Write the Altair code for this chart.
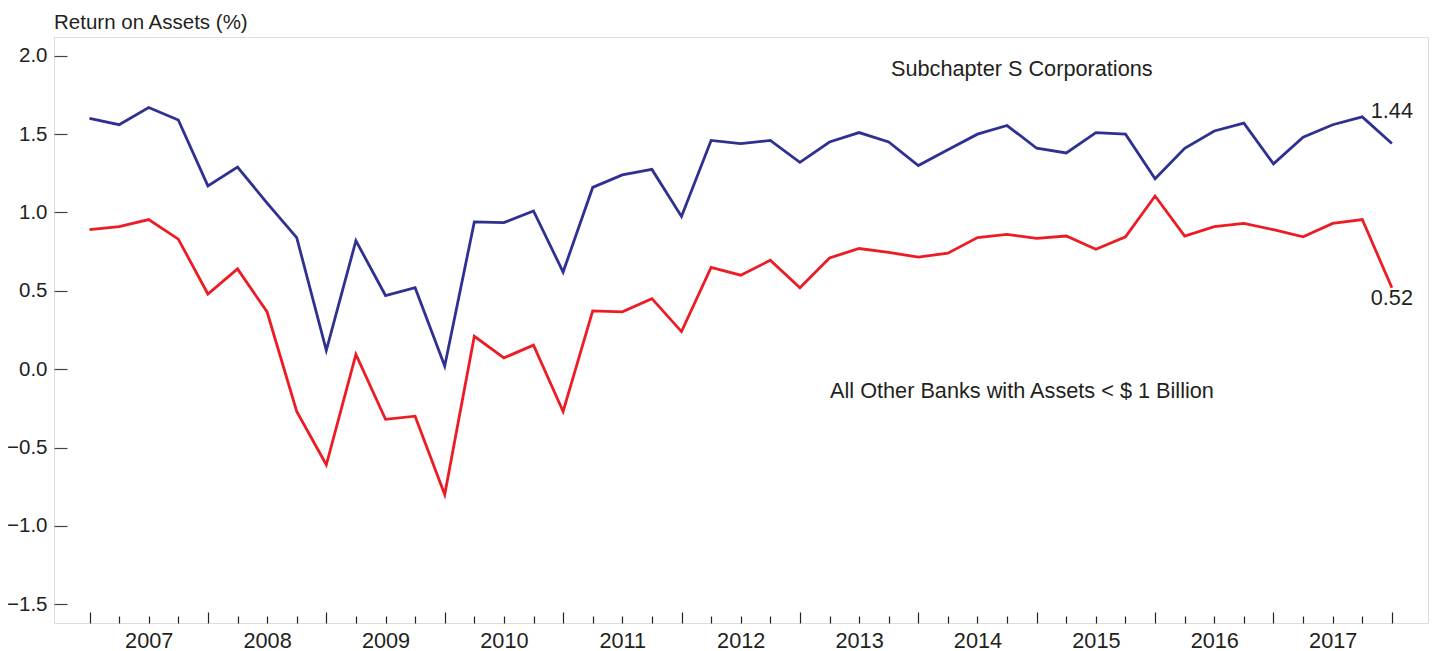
import altair as alt
import pandas as pd

# ---- data (quarterly, 2006Q4 .. 2017Q4) ----
quarters = list(range(45))
subchapter_s = [1.60, 1.56, 1.67, 1.59, 1.17, 1.29, 1.06, 0.84, 0.12, 0.82, 0.47, 0.52,
                0.02, 0.94, 0.935, 1.01, 0.62, 1.16, 1.24, 1.275, 0.975, 1.46, 1.44, 1.46,
                1.32, 1.45, 1.51, 1.45, 1.30, 1.40, 1.50, 1.555, 1.41, 1.38, 1.51, 1.50,
                1.215, 1.41, 1.52, 1.57, 1.31, 1.48, 1.56, 1.61, 1.44]
other_banks = [0.89, 0.91, 0.955, 0.83, 0.48, 0.64, 0.365, -0.27, -0.61, 0.094, -0.32, -0.30,
               -0.80, 0.21, 0.072, 0.153, -0.27, 0.372, 0.366, 0.45, 0.24, 0.65, 0.60, 0.695,
               0.52, 0.71, 0.77, 0.745, 0.715, 0.74, 0.84, 0.86, 0.835, 0.85, 0.765, 0.845,
               1.105, 0.85, 0.91, 0.93, 0.89, 0.845, 0.93, 0.955, 0.52]
year_labels = ["2007", "2008", "2009", "2010", "2011", "2012", "2013", "2014", "2015", "2016", "2017"]
year_positions = [2, 6, 10, 14, 18, 22, 26, 30, 34, 38, 42]       # mid-year quarter index
year_end_ticks = [0, 4, 8, 12, 16, 20, 24, 28, 32, 36, 40, 44]    # Q4 ticks (long)
quarter_ticks = [q for q in quarters if q not in year_end_ticks]  # other quarters (short)
y_ticks = [-1.5, -1.0, -0.5, 0.0, 0.5, 1.0, 1.5, 2.0]

title_text = "Return on Assets (%)"
label_s = "Subchapter S Corporations"
label_o = "All Other Banks with Assets < $ 1 Billion"

df = pd.DataFrame({"q": quarters, "subchapter": subchapter_s, "other": other_banks})

FONT = "Liberation Sans"
TXT = "#231f20"
BLUE = "#2e3192"
RED = "#ed1c24"
FS = 21.7

xscale = alt.Scale(domain=[-1.2, 45.22], nice=False, zero=False)
yscale = alt.Scale(domain=[-1.62, 2.12], nice=False, zero=False)

yaxis = alt.Axis(values=y_ticks, format=".1f", orient="left", offset=-13, tickSize=13,
                 domain=False, grid=False, title=None, labelPadding=7, labelFontSize=20.5,
                 labelFont=FONT, labelColor=TXT, tickColor="#444", tickWidth=1.2)

axis_major = alt.Axis(values=year_end_ticks, orient="bottom", offset=-11, tickSize=11,
                      labels=False, domain=False, grid=False, title=None,
                      tickColor="#222", tickWidth=1.2)
axis_minor = alt.Axis(values=quarter_ticks, orient="bottom", offset=-7, tickSize=7,
                      labels=False, domain=False, grid=False, title=None,
                      tickColor="#222", tickWidth=1.2)
year_expr = " : ".join(f"datum.value == {p} ? '{y}'" for p, y in zip(year_positions, year_labels)) + " : ''"
axis_years = alt.Axis(values=year_positions, orient="bottom", offset=0, ticks=False, tickSize=0,
                      domain=False, grid=False, title=None, labelExpr=year_expr,
                      labelPadding=7, labelFontSize=FS, labelFont=FONT, labelColor=TXT)

blue_line = alt.Chart(df).mark_line(color=BLUE, strokeWidth=2.8).encode(
    x=alt.X("q:Q", scale=xscale, axis=axis_major),
    y=alt.Y("subchapter:Q", scale=yscale, axis=yaxis),
)
red_line = alt.Chart(df).mark_line(color=RED, strokeWidth=2.8).encode(
    x=alt.X("q:Q", scale=xscale, axis=axis_minor),
    y=alt.Y("other:Q", scale=yscale, axis=yaxis),
)
last = quarters[-1]
blue_end = alt.Chart(df).transform_filter(alt.datum.q == last).mark_text(
    dy=-33, fontSize=FS, font=FONT, color=TXT, align="center", baseline="middle"
).encode(
    x=alt.X("q:Q", scale=xscale, axis=axis_years),
    y=alt.Y("subchapter:Q", scale=yscale, axis=yaxis),
    text=alt.Text("subchapter:Q", format=".2f"),
)
red_end = alt.Chart(df).transform_filter(alt.datum.q == last).mark_text(
    dy=10, fontSize=FS, font=FONT, color=TXT, align="center", baseline="middle"
).encode(
    x=alt.X("q:Q", scale=xscale, axis=None),
    y=alt.Y("other:Q", scale=yscale, axis=yaxis),
    text=alt.Text("other:Q", format=".2f"),
)
ann_s = alt.Chart(pd.DataFrame({"t": [label_s]})).mark_text(
    align="left", baseline="middle", fontSize=FS, font=FONT, color=TXT
).encode(x=alt.value(837), y=alt.value(32), text="t:N")
ann_o = alt.Chart(pd.DataFrame({"t": [label_o]})).mark_text(
    align="left", baseline="middle", fontSize=FS, font=FONT, color=TXT
).encode(x=alt.value(776), y=alt.value(354), text="t:N")

chart = alt.layer(blue_line, red_line, blue_end, red_end, ann_s, ann_o).resolve_axis(
    x="independent"
).properties(
    width=1374,
    height=586,
    title=alt.Title(title_text, anchor="start", frame="group", fontSize=20.5, font=FONT,
                    fontWeight="normal", color=TXT, offset=4),
    padding={"left": 46, "top": 29, "right": 4, "bottom": 28},
    autosize=alt.AutoSizeParams(type="none"),
).configure_view(
    stroke="#555", strokeWidth=1.5
).configure(background="white")

chart.save("out.html", embed_options={"renderer": "svg", "actions": False})
